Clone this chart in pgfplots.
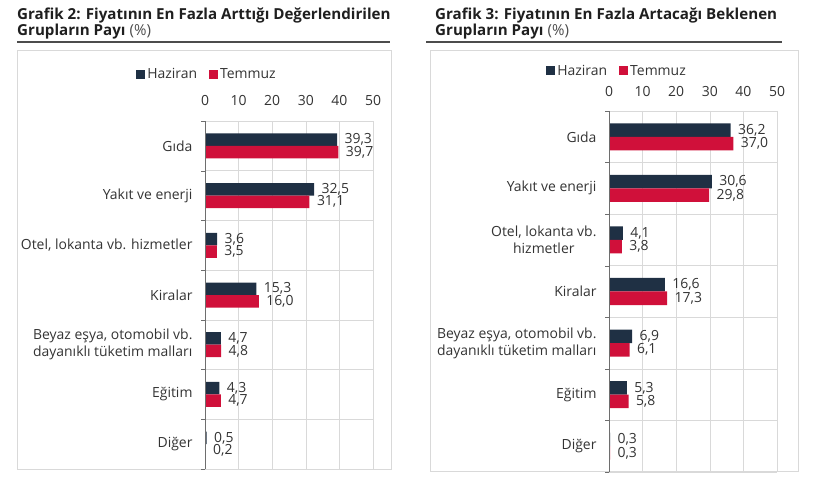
\documentclass[border=0pt]{standalone}
\usepackage{pgfplots}
\pgfplotsset{compat=1.18}
\usepackage{fontspec}
\setmainfont{Open Sans}
\definecolor{navy}{RGB}{31,48,68}
\definecolor{crim}{RGB}{208,16,58}
\definecolor{txt}{RGB}{51,51,51}
\definecolor{gridc}{RGB}{217,217,217}
\definecolor{axc}{RGB}{110,110,110}
\pgfplotsset{
  panel/.style={
    scale only axis, width=168bp,
    xbar, xmin=0, xmax=50, ymin=-0.5, ymax=6.5, y dir=reverse,
    xtick={0,10,...,50}, xticklabel pos=upper, xtick pos=upper,
    ytick={0,...,6}, ytick pos=left,
    minor ytick={-0.5,0.5,...,6.5},
    major tick length=0pt, minor tick length=4bp, tick align=outside,
    tick style={draw=axc},
    xmajorgrids, yminorgrids,
    grid style={draw=gridc, line width=0.6bp},
    minor grid style={draw=gridc, line width=0.6bp},
    axis line style={draw=none},
    /pgf/number format/assume math mode=true,
    ticklabel style={font=\fontsize{14}{17}\selectfont, text=txt},
    yticklabel style={align=center, xshift=-9bp},
    nodes near coords={\pgfmathprintnumber[fixed,fixed zerofill,precision=1,use comma]{\pgfplotspointmeta}},
    every node near coord/.append style={font=\fontsize{14}{15}\selectfont, text=txt, anchor=west, xshift=4bp},
    legend columns=2,
    legend style={draw=none, fill=none, font=\fontsize{14}{15}\selectfont, text=txt,
      /tikz/every even column/.append style={column sep=10bp}, inner sep=0pt},
    legend image code/.code={\fill[##1] (0bp,-4.5bp) rectangle (9bp,4.5bp);},
  }
}
\begin{document}
\begin{tikzpicture}[x=1bp,y=1bp]
\path[use as bounding box] (0,0) rectangle (820,485);
% titles
\node[anchor=base west, inner sep=0pt, text=black!88, font=\fontsize{15.2}{18}\selectfont\bfseries] at (17,465) {Grafik 2: Fiyatının En Fazla Arttığı Değerlendirilen};
\node[anchor=base west, inner sep=0pt, text=black!88, font=\fontsize{15.2}{18}\selectfont] at (17,449) {\textbf{Grupların Payı} \textcolor{black!70}{(\%)}};
\draw[line width=1.5bp, black!70] (17,443) -- (390,443);
\node[anchor=base west, inner sep=0pt, text=black!88, font=\fontsize{15.2}{18}\selectfont\bfseries] at (435,465) {Grafik 3: Fiyatının En Fazla Artacağı Beklenen};
\node[anchor=base west, inner sep=0pt, text=black!88, font=\fontsize{15.2}{18}\selectfont] at (435,449) {\textbf{Grupların Payı} \textcolor{black!70}{(\%)}};
\draw[line width=1.5bp, black!70] (426,443) -- (782,443);
% frames
\draw[gridc, line width=1bp] (17,434) rectangle (391,15);
\draw[gridc, line width=1bp] (430,434) rectangle (798,13);

\begin{axis}[panel, at={(205bp,16bp)}, anchor=south west, height=348bp,
  bar width=12.5bp,
  yticklabels={{Gıda},{Yakıt ve enerji},{Otel, lokanta vb. hizmetler},{Kiralar},{Beyaz eşya, otomobil vb.\\dayanıklı tüketim malları},{Eğitim},{Diğer}},
  xticklabel style={yshift=12bp},
  legend style={at={(0.012,1.135)}, anchor=center}]
\addplot[fill=navy, draw=none, bar shift=6.25bp] coordinates {(39.3,0) (32.5,1) (3.6,2) (15.3,3) (4.7,4) (4.3,5) (0.5,6)};
\addplot[fill=crim, draw=none, bar shift=-6.25bp] coordinates {(39.7,0) (31.1,1) (3.5,2) (16.0,3) (4.8,4) (4.7,5) (0.2,6)};
\legend{Haziran, Temmuz}
\draw[axc, line width=0.8bp] (rel axis cs:0,0) -- (rel axis cs:0,1);
\end{axis}

\begin{axis}[panel, at={(609bp,13bp)}, anchor=south west, height=361bp,
  bar width=13.5bp,
  yticklabels={{Gıda},{Yakıt ve enerji},{Otel, lokanta vb.\\hizmetler},{Kiralar},{Beyaz eşya, otomobil vb.\\dayanıklı tüketim malları},{Eğitim},{Diğer}},
  xticklabel style={yshift=11bp},
  legend style={at={(0.048,1.111)}, anchor=center}]
\addplot[fill=navy, draw=none, bar shift=6.75bp] coordinates {(36.2,0) (30.6,1) (4.1,2) (16.6,3) (6.9,4) (5.3,5) (0.3,6)};
\addplot[fill=crim, draw=none, bar shift=-6.75bp] coordinates {(37.0,0) (29.8,1) (3.8,2) (17.3,3) (6.1,4) (5.8,5) (0.3,6)};
\legend{Haziran, Temmuz}
\draw[axc, line width=0.8bp] (rel axis cs:0,0) -- (rel axis cs:0,1);
\end{axis}
\end{tikzpicture}
\end{document}
